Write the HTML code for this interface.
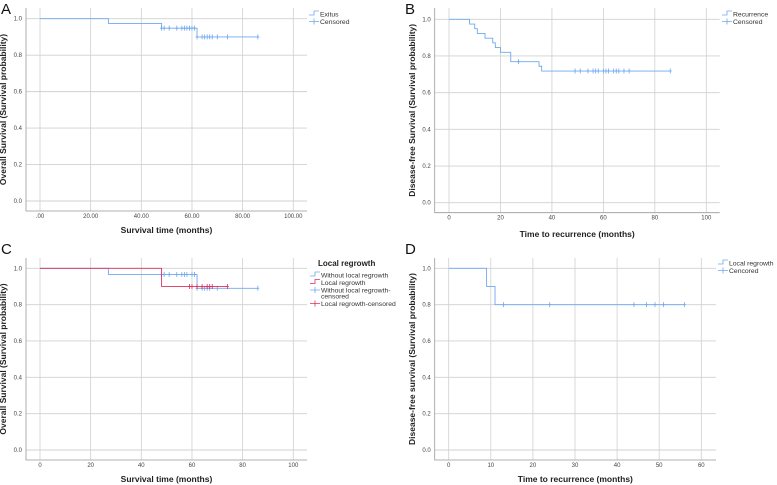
<!DOCTYPE html>
<html><head><meta charset="utf-8"><style>
body{margin:0;background:#fff}
svg{display:block;font-family:"Liberation Sans",sans-serif}
</style></head><body>
<svg id="fig" width="777" height="485" viewBox="0 0 777 485" xmlns="http://www.w3.org/2000/svg"></svg>
<script>
// Panel A
const aSteps=[[0,1],[27,0.974],[48,0.948],[62,0.90],[86,0.90]];
const aCensT=[48,49,51,54,56,57,58,59,60,61,62,64,65,66,67,68,70,74,86];
// Panel B
const bSteps=[[0,1],[8,0.974],[10,0.949],[11,0.923],[14,0.897],[17,0.872],[18,0.846],[20,0.82],[24,0.769],[35,0.744],[36,0.718],[86,0.718]];
const bCensT=[27,49,51,54,56,57,58,60,61,62,64,65,66,68,70,86];
// Panel C
const cBlueSteps=[[0,1],[27,0.966],[62,0.89],[86,0.89]];
const cBlueCensT=[48,49,51,54,56,57,58,60,61,62,64,65,66,67,70,86];
const cRedSteps=[[0,1],[48,0.9],[74,0.9]];
const cRedCensT=[59,60,62,64,66,67,68,74];
// Panel D
const dSteps=[[0,1],[9,0.9],[11,0.8],[56,0.8]];
const dCensT=[13,24,44,47,49,51,56];
// ticks
const yTicks=[0,0.2,0.4,0.6,0.8,1.0];
const yTickLabels=["0.0","0.2","0.4","0.6","0.8","1.0"];
const aXTicks=[0,20,40,60,80,100];
const aXTickLabels=[".00","20.00","40.00","60.00","80.00","100.00"];
const bXTicks=[0,20,40,60,80,100];
const dXTicks=[0,10,20,30,40,50,60];

const NS="http://www.w3.org/2000/svg";
const svg=document.getElementById('fig');
const BLUE="#6fa8f0",RED="#e0305a";
function el(tag,attrs,parent,text){const e=document.createElementNS(NS,tag);for(const k in attrs)e.setAttribute(k,attrs[k]);if(text!==undefined)e.textContent=text;(parent||svg).appendChild(e);return e;}
function valAt(steps,t){let v=steps[0][1];for(const s of steps){if(s[0]<=t)v=s[1];}return v;}

function panel(p){
  const g=el('g',{});
  
  
  const xs=t=>p.x0+(t-p.xmin)/(p.xmax-p.xmin)*(p.x1-p.x0);
  const ys=v=>p.y0-v*(p.y0-p.y1);
  p.xticks.forEach((t,i)=>{
    const l=el('line',{x1:xs(t),x2:xs(t),y1:p.top,y2:p.axisY,stroke:"#d0d0d0","stroke-width":0.8},g);
    
    
    const tx=el('text',{x:xs(t),y:p.axisY+7,"font-size":6,"text-anchor":"middle",fill:"#444"},g,p.xlabels[i]);
    
    
  });
  yTicks.forEach((v,i)=>{
    const l=el('line',{x1:p.left,x2:p.right,y1:ys(v),y2:ys(v),stroke:"#d0d0d0","stroke-width":0.9},g);
    
    
    const tx=el('text',{x:p.left-4,y:ys(v)+2,"font-size":6,"text-anchor":"end",fill:"#444"},g,yTickLabels[i]);
    
    
  });
  const ax=el('path',{d:`M${p.left},${p.top}V${p.axisY}H${p.right}`,stroke:"#999",fill:"none","stroke-width":0.8},g);
  
  
  p.series.forEach(s=>{
    let d=`M${xs(s.steps[0][0])},${ys(s.steps[0][1])}`;
    for(let i=1;i<s.steps.length;i++){d+=`H${xs(s.steps[i][0])}V${ys(s.steps[i][1])}`;}
    const path=el('path',{d,stroke:s.color,fill:"none","stroke-width":0.9},g);
    
    
    s.cens.forEach(t=>{
      const cx=xs(t),cy=ys(valAt(s.steps,t));
      const m=el('path',{d:`M${cx},${cy-2.5}V${cy+2.5}M${cx-1.5},${cy}H${cx+1.5}`,stroke:s.color,"stroke-width":0.8},g);
      
      
    });
  });
  const lt=el('text',{x:p.letterX,y:p.letterY,"font-size":15,fill:"#111"},g,p.id);
  
  
  const xt=el('text',{x:(p.left+p.right)/2,y:p.xtitleY,"font-size":8.5,"font-weight":"bold","text-anchor":"middle",fill:"#222"},g,p.xtitle);
  
  
  const cy=(p.top+p.axisY)/2;
  const yt=el('text',{x:p.ytitleX,y:cy,"font-size":8.5,"font-weight":"bold","text-anchor":"middle",fill:"#222",transform:`rotate(-90 ${p.ytitleX} ${cy})`},g,p.ytitle);
  
  
  let ly=p.legY;
  if(p.legTitle){const t=el('text',{x:p.legX+8,y:ly,"font-size":8,"font-weight":"bold",fill:"#222"},g,p.legTitle);ly+=9;}
  p.legend.forEach(e=>{
    const sym=e.type==='line'?`M${p.legX},${ly+1}H${p.legX+5}V${ly-3}H${p.legX+10}`:`M${p.legX},${ly}H${p.legX+10}M${p.legX+5},${ly-3}V${ly+3}`;
    const s=el('path',{d:sym,stroke:e.color,fill:"none","stroke-width":0.8},g);
    
    
    e.lines.forEach((ln,k)=>{
      const t=el('text',{x:p.legX+11,y:ly+2.5+k*6,"font-size":6.8,fill:"#333"},g,ln);
      
      
    });
    ly+=7.5+(e.lines.length-1)*6;
  });
}

panel({id:"A",xmin:0,xmax:100,x0:40,x1:293.3,y0:201,y1:18.7,left:26,right:307,top:8,axisY:211,
  xticks:aXTicks,xlabels:aXTickLabels,letterX:1,letterY:14,xtitleY:233,ytitleX:6,
  xtitle:"Survival time (months)",ytitle:"Overall Survival (Survival probability)",
  series:[{name:"exitus",steps:aSteps,cens:aCensT,color:BLUE}],
  legX:309,legY:14,legend:[{type:'line',color:BLUE,lines:["Exitus"]},{type:'cens',color:BLUE,lines:["Censored"]}]});
panel({id:"B",xmin:0,xmax:100,x0:449,x1:706.3,y0:202.7,y1:19.3,left:434.7,right:719.7,top:8,axisY:212.7,
  xticks:bXTicks,xlabels:bXTicks.map(String),letterX:405,letterY:14,xtitleY:237,ytitleX:415,
  xtitle:"Time to recurrence (months)",ytitle:"Disease-free Survival (Survival probability)",
  series:[{name:"recurrence",steps:bSteps,cens:bCensT,color:BLUE}],
  legX:722,legY:14,legend:[{type:'line',color:BLUE,lines:["Recurrence"]},{type:'cens',color:BLUE,lines:["Censored"]}]});
panel({id:"C",xmin:0,xmax:100,x0:40,x1:293.3,y0:450,y1:268.3,left:26,right:307,top:258,axisY:460,
  xticks:bXTicks,xlabels:bXTicks.map(String),letterX:1,letterY:254,xtitleY:482,ytitleX:6,
  xtitle:"Survival time (months)",ytitle:"Overall Survival (Survival probability)",
  series:[{name:"without-local-regrowth",steps:cBlueSteps,cens:cBlueCensT,color:BLUE},{name:"local-regrowth",steps:cRedSteps,cens:cRedCensT,color:RED}],
  legX:310,legY:266,legTitle:"Local regrowth",legend:[{type:'line',color:BLUE,lines:["Without local regrowth"]},{type:'line',color:RED,lines:["Local regrowth"]},{type:'cens',color:BLUE,lines:["Without local regrowth-","censored"]},{type:'cens',color:RED,lines:["Local regrowth-censored"]}]});
panel({id:"D",xmin:0,xmax:60,x0:448.7,x1:701.3,y0:450,y1:268.3,left:434.7,right:716,top:258,axisY:460,
  xticks:dXTicks,xlabels:dXTicks.map(String),letterX:405,letterY:254,xtitleY:482,ytitleX:415,
  xtitle:"Time to recurrence (months)",ytitle:"Disease-free survival (Survival probability)",
  series:[{name:"local-regrowth",steps:dSteps,cens:dCensT,color:BLUE}],
  legX:718,legY:263,legend:[{type:'line',color:BLUE,lines:["Local regrowth"]},{type:'cens',color:BLUE,lines:["Cencored"]}]});
</script>
</body></html>
